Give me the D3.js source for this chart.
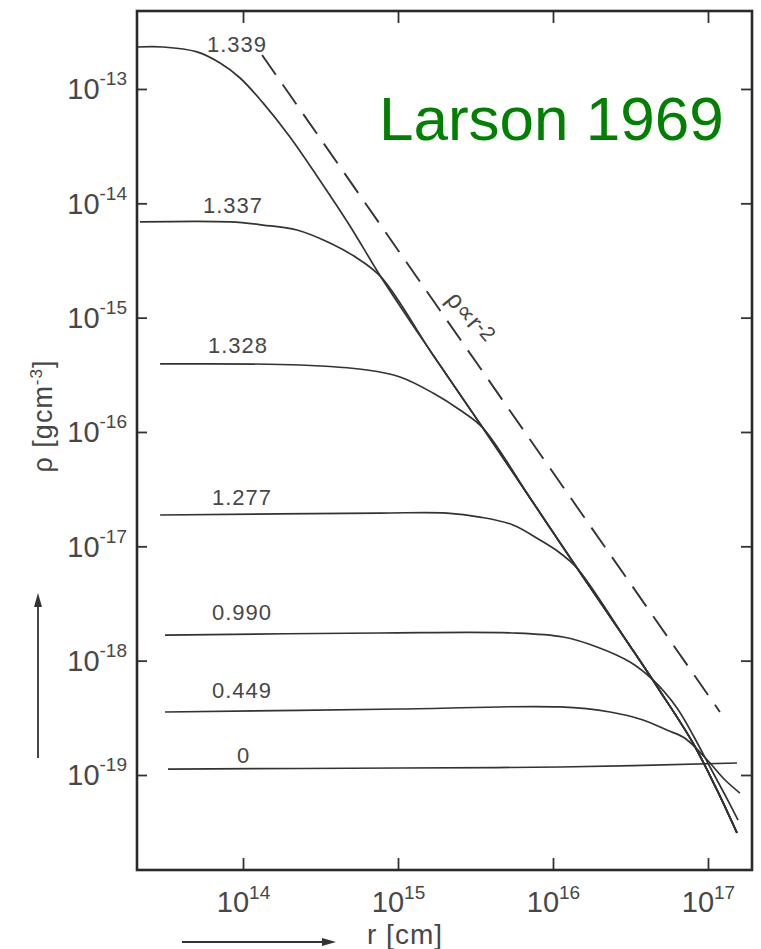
<!DOCTYPE html>
<html>
<head>
<meta charset="utf-8">
<script src="https://cdn.jsdelivr.net/npm/d3@7"></script>
<style>
  body { margin: 0; background: #fff; }
  svg text { font-family: "Liberation Sans", Arial, sans-serif; fill: #474747; }
</style>
</head>
<body>
<script>
'use strict';

// labels of the curves (time, in units of the free-fall time)
const labels = ["0", "0.449", "0.990", "1.277", "1.328", "1.337", "1.339"];

// points: [log10 r (cm), log10 rho (g cm^-3)]
const curve0    = [[13.516,-18.948],[15.013,-18.939],[16.045,-18.930],[17.187,-18.895]];
const curve0449 = [[13.497,-18.449],[15.013,-18.423],[16.045,-18.405],[16.368,-18.449],[16.581,-18.519],
                   [16.735,-18.607],[16.839,-18.668],[16.903,-18.738],[17.013,-18.895],[17.110,-19.044],[17.206,-19.158]];
const curve0990 = [[13.497,-17.776],[14.884,-17.758],[15.742,-17.758],[16.065,-17.793],[16.284,-17.880],
                   [16.497,-18.012],[16.645,-18.169],[16.800,-18.414],[16.903,-18.650],[17.013,-18.930],
                   [17.110,-19.175],[17.194,-19.394]];
// the inner parts of the late curves, before they join the common r^-2 envelope
const curve1277 = [[13.465,-16.726],[14.884,-16.709],[15.316,-16.709],[15.529,-16.744],[15.742,-16.813],
                   [15.916,-16.945],[16.045,-17.058]];
const curve1328 = [[13.465,-15.405],[14.368,-15.414],[14.800,-15.458],[15.013,-15.519],[15.226,-15.659],[15.400,-15.808]];
const curve1337 = [[13.335,-14.163],[13.916,-14.163],[14.129,-14.190],[14.348,-14.233],[14.561,-14.347],[14.735,-14.478]];
const curve1339 = [[13.316,-12.633],[13.484,-12.633],[13.703,-12.676],[13.852,-12.773],[13.981,-12.904],
                   [14.129,-13.122],[14.303,-13.420],[14.477,-13.761],[14.690,-14.198]];
const envelope  = [[14.890,-14.644],[15.226,-15.327],[15.548,-15.965],[15.852,-16.577],[16.155,-17.190],
                   [16.497,-17.872],[16.690,-18.265],[16.903,-18.720],[17.058,-19.131],[17.187,-19.507]];

// dashed rho ~ r^-2 reference line
const powerLaw = [[14.123,-12.703],[17.077,-18.449]];

// tick exponents
const xTicks = [14, 15, 16, 17];
const yTicks = [-13, -14, -15, -16, -17, -18, -19];

// axis limits (log10)
const xLim = [13.316, 17.284];
const yLim = [-12.318, -19.831];

// label placement (px): x start and baseline
const labelPos = [[237,763],[212,698],[212,620],[212,505],[208,353],[203,213],[207,52]];

window.onload = function() {
  const left = 137, right = 752, top = 11, bottom = 870;

  const svg = d3.select('body').append('svg')
    .attr('width', 761)
    .attr('height', 949);

  const x = d3.scaleLog().domain(xLim.map(v => 10 ** v)).range([left, right]);
  const y = d3.scaleLog().domain(yLim.map(v => 10 ** v)).range([top, bottom]);

  // join the late curves onto the envelope
  function withEnvelope(inner) {
    let last = inner[inner.length - 1][0];
    return inner.concat(envelope.filter(p => p[0] > last));
  }
  const series = [curve0, curve0449, curve0990,
    withEnvelope(curve1277), withEnvelope(curve1328),
    withEnvelope(curve1337), withEnvelope(curve1339)];

  const line = d3.line()
    .x(d => x(10 ** d[0]))
    .y(d => y(10 ** d[1]))
    .curve(d3.curveCatmullRom.alpha(0.5));

  svg.selectAll('.curve')
    .data(series)
    .enter().append('path')
      .attr('class', 'curve')
      .attr('d', line)
      .attr('fill', 'none')
      .attr('stroke', '#333')
      .attr('stroke-width', 1.7);

  svg.append('path')
    .datum(powerLaw)
    .attr('d', d3.line().x(d => x(10 ** d[0])).y(d => y(10 ** d[1])))
    .attr('fill', 'none')
    .attr('stroke', '#333')
    .attr('stroke-width', 1.9)
    .attr('stroke-dasharray', '24,12');

  // curve labels
  svg.selectAll('.lab')
    .data(labels)
    .enter().append('text')
      .attr('class', 'lab')
      .attr('x', (d, i) => labelPos[i][0])
      .attr('y', (d, i) => labelPos[i][1])
      .style('font-size', '22px')
      .style('letter-spacing', '1px')
      .text(d => d);

  // rho ~ r^-2 label along the dashed line
  let pl = svg.append('text')
    .attr('transform', 'translate(445,300) rotate(50)')
    .style('font-size', '25px');
  pl.append('tspan').text('ρ∝r');
  pl.append('tspan').attr('dy', -4).style('font-size', '21px').text('-2');

  // axes with inward ticks
  function styleAxis(g) {
    g.select('.domain').remove();
    g.selectAll('.tick line').attr('stroke', '#333').attr('stroke-width', 1.8);
  }
  const tv = xTicks.map(e => 10 ** e);
  const tvy = yTicks.map(e => 10 ** e);

  let gx = svg.append('g')
    .attr('transform', 'translate(0,' + bottom + ')')
    .call(d3.axisBottom(x).tickValues(tv).tickSize(-12).tickPadding(28).tickFormat(''))
    .call(styleAxis);
  svg.append('g')
    .attr('transform', 'translate(0,' + top + ')')
    .call(d3.axisTop(x).tickValues(tv).tickSize(-12).tickFormat(''))
    .call(styleAxis);
  let gy = svg.append('g')
    .attr('transform', 'translate(' + left + ',0)')
    .call(d3.axisLeft(y).tickValues(tvy).tickSize(-10).tickPadding(10).tickFormat(''))
    .call(styleAxis);
  svg.append('g')
    .attr('transform', 'translate(' + right + ',0)')
    .call(d3.axisRight(y).tickValues(tvy).tickSize(-11).tickFormat(''))
    .call(styleAxis);

  // tick labels as 10 with a superscript exponent
  gx.selectAll('.tick text')
    .attr('fill', null)
    .attr('dy', null)
    .attr('y', 42)
    .style('font-size', '29px')
    .each(function(d, i) {
      let t = d3.select(this);
      t.append('tspan').text('10');
      t.append('tspan').attr('dy', -13).style('font-size', '19px').text(xTicks[i]);
    });
  gy.selectAll('.tick text')
    .attr('fill', null)
    .attr('dy', null)
    .attr('y', 10)
    .style('font-size', '29px')
    .each(function(d, i) {
      let t = d3.select(this);
      t.append('tspan').text('10');
      t.append('tspan').attr('dy', -14).style('font-size', '19px').text(yTicks[i]);
    });

  // frame
  svg.append('rect')
    .attr('x', left)
    .attr('y', top)
    .attr('width', right - left)
    .attr('height', bottom - top)
    .attr('fill', 'none')
    .attr('stroke', '#2a2a2a')
    .attr('stroke-width', 2.6);

  // axis titles
  let yt = svg.append('text')
    .attr('transform', 'translate(52,416) rotate(-90)')
    .attr('text-anchor', 'middle')
    .style('font-size', '27px')
    .style('letter-spacing', '1px');
  yt.append('tspan').text('ρ [gcm');
  yt.append('tspan').attr('dy', -10).style('font-size', '17px').text('-3');
  yt.append('tspan').attr('dy', 10).text(']');

  svg.append('text')
    .attr('x', 367)
    .attr('y', 944)
    .style('font-size', '28px')
    .style('letter-spacing', '1px')
    .text('r [cm]');

  // arrows next to the axis titles
  svg.append('line')
    .attr('x1', 182).attr('y1', 942).attr('x2', 326).attr('y2', 942)
    .attr('stroke', '#333').attr('stroke-width', 1.8);
  svg.append('path')
    .attr('d', 'M336,942 L322,938 L322,946 Z')
    .attr('fill', '#333');
  svg.append('line')
    .attr('x1', 38).attr('y1', 758).attr('x2', 38).attr('y2', 603)
    .attr('stroke', '#333').attr('stroke-width', 1.8);
  svg.append('path')
    .attr('d', 'M38,593 L34,607 L42,607 Z')
    .attr('fill', '#333');

  // title
  svg.append('text')
    .attr('x', 379)
    .attr('y', 140)
    .style('font-size', '62px')
    .style('fill', '#008000')
    .text('Larson 1969');
};
</script>
</body>
</html>
